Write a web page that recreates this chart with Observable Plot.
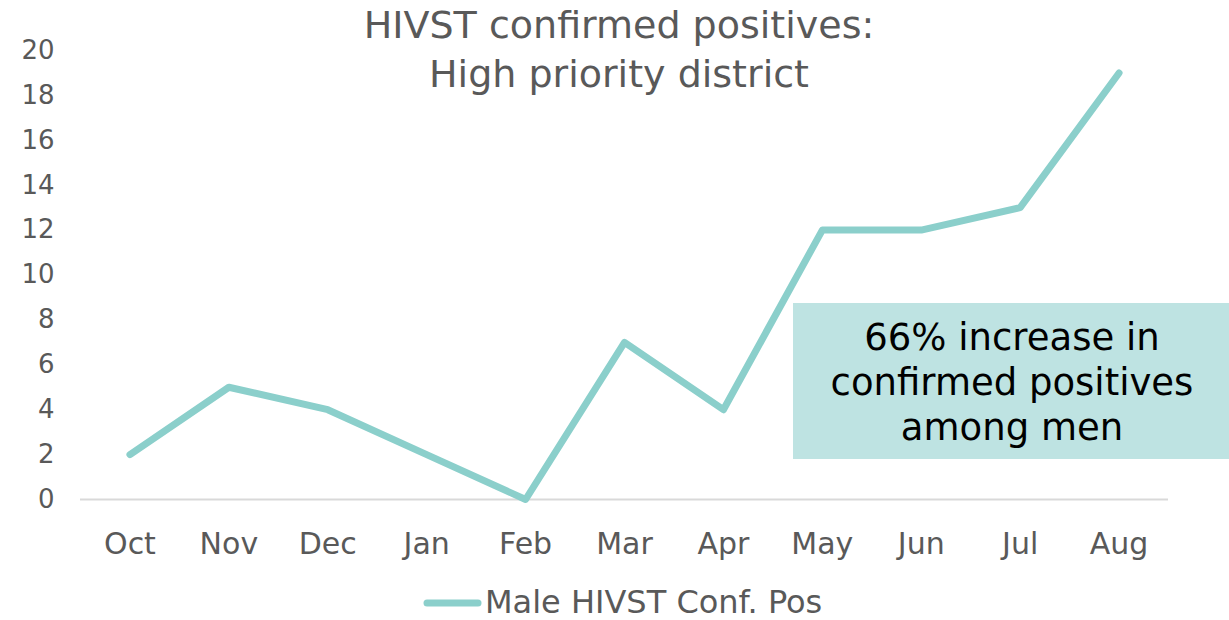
<!DOCTYPE html>
<html><head><meta charset="utf-8">
<script src="https://cdn.jsdelivr.net/npm/d3@7"></script>
<script src="https://cdn.jsdelivr.net/npm/@observablehq/plot@0.6"></script>
<style>body{margin:0;background:#fff;} svg{display:block;}</style>
</head><body><div id="chart"></div>
<script>
const months = ["Oct","Nov","Dec","Jan","Feb","Mar","Apr","May","Jun","Jul","Aug"];
const maleConfPos = [2,5,4,2,0,7,4,12,12,13,19];
const yTicks = [0,2,4,6,8,10,12,14,16,18,20];
const titleLines = ["HIVST confirmed positives:","High priority district"];
const seriesName = "Male HIVST Conf. Pos";
const noteLines = ["66% increase in","confirmed positives","among men"];

const data = months.map((m,i)=>({month:m, value:maleConfPos[i]}));
const lineColor = "#8BCFCB";
const textColor = "#595959";
const font = "'DejaVu Sans', Verdana, sans-serif";

const W = 1229, H = 620;
const chart = Plot.plot({
  width: W, height: H,
  marginLeft: 80, marginRight: 61, marginTop: 50, marginBottom: 121,
  style: {fontFamily: font, fontSize: "26px", color: textColor, background: "#fff"},
  x: {type: "point", domain: months, padding: 0.5, round: false, label: null, tickSize: 0},
  y: {domain: [0,20], ticks: yTicks, label: null, tickSize: 0, tickPadding: 26},
  marks: [
    Plot.axisX({tickSize: 0, tickPadding: 33, fontSize: 30, label: null}),
    Plot.axisY({ticks: yTicks, tickSize: 0, tickPadding: 26, fontSize: 26, label: null}),
    Plot.ruleY([0], {stroke: "#D9D9D9", strokeWidth: 2}),
    Plot.line(data, {x: "month", y: "value", stroke: lineColor, strokeWidth: 7, strokeLinecap: "round", strokeLinejoin: "round"})
  ]
});
document.getElementById("chart").appendChild(chart);

const svg = d3.select(chart);
// Title
const t = svg.append("text").attr("text-anchor","middle").attr("fill",textColor)
  .style("font-family",font).style("font-size","38px");
titleLines.forEach((s,i)=>t.append("tspan").attr("x",619).attr("y",38+i*49).text(s));

// Annotation box
const g = svg.append("g");
g.append("rect").attr("x",793).attr("y",303).attr("width",436).attr("height",156).attr("fill","#BEE3E2");
const nt = g.append("text").attr("text-anchor","middle").attr("fill","#000")
  .style("font-family",font).style("font-size","37px");
noteLines.forEach((s,i)=>nt.append("tspan").attr("x",1012).attr("y",350+i*45).text(s));

// Legend
const lg = svg.append("g");
lg.append("line").attr("x1",427).attr("x2",478).attr("y1",603).attr("y2",603)
  .attr("stroke",lineColor).attr("stroke-width",7).attr("stroke-linecap","round");
lg.append("text").attr("x",485).attr("y",613).attr("text-anchor","start").attr("fill",textColor)
  .style("font-family",font).style("font-size","32px").text(seriesName);
</script></body></html>
